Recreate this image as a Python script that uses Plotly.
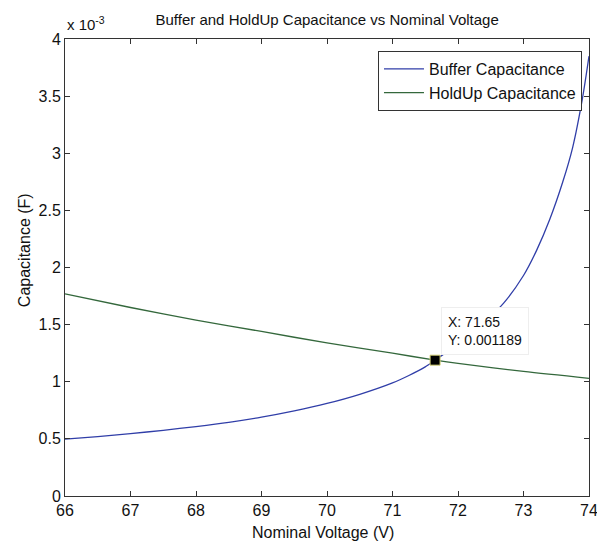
import plotly.graph_objects as go

# Nominal voltage (V) and capacitance (in units of 1e-3 F)
buffer_v = [66.0, 66.5, 67.0, 67.5, 68.0, 68.5, 69.0, 69.5, 70.0, 70.5, 71.0,
            71.25, 71.5, 71.65, 71.9, 72.2, 72.45, 72.7, 73.0, 73.2, 73.4,
            73.6, 73.75, 73.9, 74.0]
buffer_c = [0.497, 0.520, 0.546, 0.575, 0.608, 0.645, 0.690, 0.745, 0.810, 0.890, 0.990,
            1.055, 1.13, 1.189, 1.29, 1.42, 1.545, 1.69, 1.93, 2.15, 2.42,
            2.75, 3.05, 3.48, 3.85]

holdup_v = [66.0, 67.0, 68.0, 69.0, 70.0, 71.0, 71.65, 72.0, 73.0, 74.0]
holdup_c = [1.77, 1.65, 1.54, 1.44, 1.34, 1.25, 1.189, 1.16, 1.09, 1.03]

tip_v = 71.65
tip_c = 0.001189

x_ticks = [66, 67, 68, 69, 70, 71, 72, 73, 74]
y_ticks = [0, 0.5, 1, 1.5, 2, 2.5, 3, 3.5, 4]

FONT = "Liberation Sans, Arial, Helvetica, sans-serif"
BLUE = "rgb(48,62,168)"
GREEN = "rgb(52,104,60)"
INK = "#111"

fig = go.Figure()
fig.add_trace(go.Scatter(x=buffer_v, y=buffer_c, mode="lines", name="Buffer Capacitance",
                         line=dict(color=BLUE, width=1.3, shape="spline", smoothing=0.8),
                         legendgroup="a"))
fig.add_trace(go.Scatter(x=holdup_v, y=holdup_c, mode="lines", name="HoldUp Capacitance",
                         line=dict(color=GREEN, width=1.3, shape="spline", smoothing=0.8),
                         legendgroup="b"))
# data cursor marker
fig.add_trace(go.Scatter(x=[tip_v], y=[tip_c * 1e3], mode="markers", showlegend=False,
                         marker=dict(symbol="square", size=10, color="black",
                                     line=dict(color="rgb(215,210,120)", width=1))))

fig.add_annotation(x=tip_v, y=tip_c * 1e3, xref="x", yref="y",
                   text=f"X: {tip_v:.2f}<br>Y: {tip_c:.6f}",
                   showarrow=False, xanchor="left", yanchor="bottom", align="left",
                   xshift=6, yshift=5, bgcolor="white", bordercolor="#eeeeee",
                   borderwidth=1, borderpad=6,
                   font=dict(family=FONT, size=14, color=INK))

# exponent label for the y axis
fig.add_annotation(x=0, y=1, xref="paper", yref="paper", xanchor="left", yanchor="bottom",
                   yshift=4, showarrow=False, text="x 10<sup>-3</sup>",
                   font=dict(family=FONT, size=15, color=INK))

# axis titles
fig.add_annotation(x=0.492, y=-0.0788, xref="paper", yref="paper", xanchor="center",
                   yanchor="middle", showarrow=False, text="Nominal Voltage (V)",
                   font=dict(family=FONT, size=16, color=INK))
fig.add_annotation(x=0, y=0.538, xref="paper", yref="paper", xanchor="center",
                   yanchor="middle", xshift=-41, showarrow=False, textangle=-90,
                   text="Capacitance (F)", font=dict(family=FONT, size=16, color=INK))

axis_common = dict(showline=True, linecolor="#333", linewidth=1, mirror="ticks",
                   ticks="inside", ticklen=5, tickcolor="#333", showgrid=False,
                   zeroline=False, ticklabeloverflow="allow", automargin=False,
                   tickfont=dict(family=FONT, size=16, color=INK))

fig.update_layout(
    width=597, height=544,
    margin=dict(l=65, r=8, t=39, b=48),
    paper_bgcolor="white", plot_bgcolor="white",
    title=dict(text="Buffer and HoldUp Capacitance vs Nominal Voltage", x=0.548, xanchor="center",
               y=1 - 20 / 544, yanchor="middle", font=dict(family=FONT, size=15, color=INK)),
    xaxis=dict(range=[66, 74], tickvals=x_ticks, ticktext=[str(t) for t in x_ticks],
               **axis_common),
    yaxis=dict(range=[0, 4], tickvals=y_ticks, ticktext=[f"{t:g}" for t in y_ticks],
               **axis_common),
    legend=dict(x=0.9866, y=0.9737, xanchor="right", yanchor="top",
                bgcolor="white", bordercolor="#333", borderwidth=1,
                font=dict(family=FONT, size=16, color=INK),
                traceorder="grouped", tracegroupgap=0, itemwidth=40),
    showlegend=True,
)

fig.write_html("out.html")
